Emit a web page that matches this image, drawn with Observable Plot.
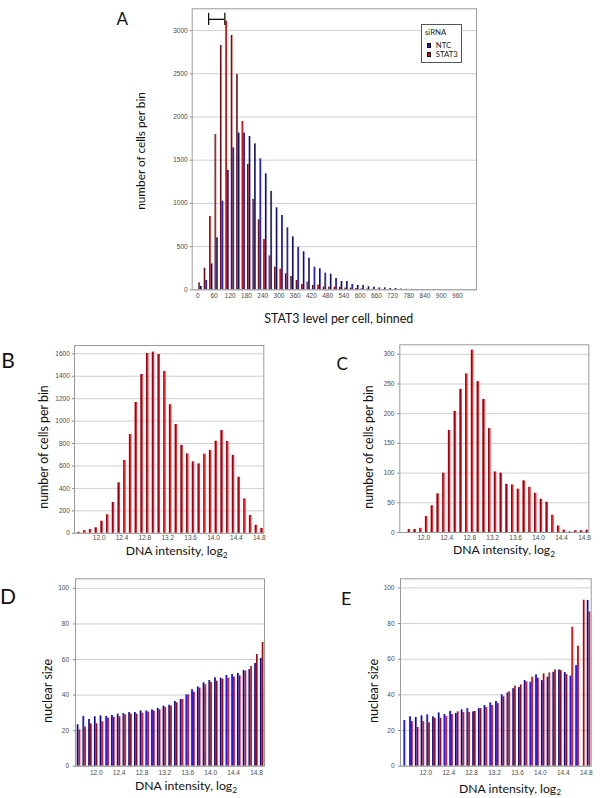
<!DOCTYPE html>
<html>
<head>
<meta charset="utf-8">
<script src="https://cdn.jsdelivr.net/npm/d3@7"></script>
<script src="https://cdn.jsdelivr.net/npm/@observablehq/plot@0.6"></script>
<style>
  html, body { margin: 0; padding: 0; background: #fff; }
  #fig { position: relative; width: 600px; height: 798px; overflow: hidden; font-family: Lato, "Open Sans", sans-serif; color: #111; }
  .txt { position: absolute; white-space: nowrap; line-height: normal; }
  .sub { position: relative; top: 0.3em; font-size: 0.68em; }
  .legend { position: absolute; box-sizing: border-box; border: 1px solid #555; background: #fff; font-family: Lato, sans-serif; font-size: 7.8px; color: #222; }
  .legend .sw { position: absolute; width: 4.3px; height: 4.3px; box-sizing: border-box; border: 0.7px solid #111; }
</style>
</head>
<body>
<svg width="0" height="0" style="position:absolute">
  <defs>
    <linearGradient id="gRedA" x1="0" x2="1" y1="0" y2="0">
      <stop offset="0" stop-color="#5a0c10"/><stop offset="0.5" stop-color="#6e1014"/>
      <stop offset="0.5" stop-color="#d01616"/><stop offset="1" stop-color="#d81a1a"/>
    </linearGradient>
    <linearGradient id="gBlueA" x1="0" x2="1" y1="0" y2="0">
      <stop offset="0" stop-color="#0c0c50"/><stop offset="0.5" stop-color="#10106a"/>
      <stop offset="0.5" stop-color="#2222d0"/><stop offset="1" stop-color="#2828dc"/>
    </linearGradient>
    <linearGradient id="gRedB" x1="0" x2="1" y1="0" y2="0">
      <stop offset="0" stop-color="#960010"/><stop offset="0.5" stop-color="#a80014"/>
      <stop offset="0.5" stop-color="#f01c24"/><stop offset="1" stop-color="#ff2a2a"/>
    </linearGradient>
    <linearGradient id="gBlueD" x1="0" x2="1" y1="0" y2="0">
      <stop offset="0" stop-color="#000088"/><stop offset="0.5" stop-color="#0a0aa0"/>
      <stop offset="0.5" stop-color="#1c1cff"/><stop offset="1" stop-color="#2626ff"/>
    </linearGradient>
    <linearGradient id="gRedD" x1="0" x2="1" y1="0" y2="0">
      <stop offset="0" stop-color="#8c0a0a"/><stop offset="0.5" stop-color="#a00c0c"/>
      <stop offset="0.5" stop-color="#e81414"/><stop offset="1" stop-color="#f01818"/>
    </linearGradient>
  </defs>
</svg>
<div id="fig"></div>
<script>
// ---------------- Panel A: STAT3 level per cell, binned ----------------
const stat3Bins = [0,20,40,60,80,100,120,140,160,180,200,220,240,260,280,300,320,340,360,380,400,
  420,440,460,480,500,520,540,560,580,600,620,640,660,680,700,720,740,760,780,800,
  820,840,860,880,900,920,940,960,980,1000];
const stat3Ntc = [40,108,300,602,1026,1381,1643,1813,1813,1774,1689,1516,1342,1138,949,860,717,613,490,440,365,
  262,243,193,181,131,96,96,62,50,50,35,31,23,23,15,15,8,6,5,4,
  4,3,3,2,2,2,1,1,1,1];
const stat3Kd = [80,250,849,1797,2827,3109,2943,2492,1948,1450,1045,810,582,393,262,239,185,154,108,62,89,
  50,54,31,31,31,31,20,20,15,12,8,6,5,4,3,3,2,2,1,1,
  1,1,0,0,0,0,0,0,0,0];
const stat3BinWidth = 20;
const stat3TickLabels = [0,60,120,180,240,300,360,420,480,540,600,660,720,780,840,900,960];
const countTicksA = [0,500,1000,1500,2000,2500,3000];
const gateRange = [40, 100];
const gateLevel = 3130;
const gateTick = [3060, 3200];
const legendTitle = "siRNA";
const legendLabels = ["NTC", "STAT3"];

// ---------------- Panels B and C: DNA intensity histograms ----------------
const dnaBinsB = [11.6,11.7,11.8,11.9,12.0,12.1,12.2,12.3,12.4,12.5,12.6,12.7,12.8,12.9,13.0,13.1,13.2,
  13.3,13.4,13.5,13.6,13.7,13.8,13.9,14.0,14.1,14.2,14.3,14.4,14.5,14.6,14.7,14.8];
const countsB = [9,25,34,49,108,165,275,450,649,880,1166,1416,1603,1615,1594,1443,1146,
  970,783,708,637,619,705,738,821,916,818,694,500,307,159,71,43];
const dnaBinsC = [11.7,11.8,11.9,12.0,12.1,12.2,12.3,12.4,12.5,12.6,12.7,12.8,12.9,13.0,13.1,13.2,
  13.3,13.4,13.5,13.6,13.7,13.8,13.9,14.0,14.1,14.2,14.3,14.4,14.5,14.6,14.7,14.8];
const countsC = [5,5,7,27,45,65,100,172,204,241,267,307,254,224,175,102,
  100,81,80,73,87,76,66,56,51,29,11,4,1,3,3,4];
const dnaBinWidth = 0.1;
const dnaTicks = [12.0,12.4,12.8,13.2,13.6,14.0,14.4,14.8];
const countTicksB = [0,200,400,600,800,1000,1200,1400,1600];
const countTicksC = [0,50,100,150,200,250,300];

// ---------------- Panels D and E: nuclear size ----------------
const dnaBinsD = [11.7,11.8,11.9,12.0,12.1,12.2,12.3,12.4,12.5,12.6,12.7,12.8,12.9,13.0,13.1,13.2,13.3,
  13.4,13.5,13.6,13.7,13.8,13.9,14.0,14.1,14.2,14.3,14.4,14.5,14.6,14.7,14.8,14.9];
const sizeNtcD = [23.3,28,26.3,27.8,28.3,28,28.5,29.3,29.6,30.2,30.2,31.1,31.1,31.7,32.5,33.8,34.3,
  36.4,37.5,40.1,43,44.6,46.9,48.2,49.7,49.5,51,51.6,52.2,53.8,54.4,57.8,60.6];
const sizeKdD = [20.4,22,23.8,23.8,25,27,27.6,27.8,28.9,29.3,29.3,29.8,30.4,31,31.7,33,33.8,
  35.6,37.5,40.1,41.6,43.9,45.8,47.1,47.8,49,49.5,50.1,50.8,53.5,56.1,62.8,69.6];
const dnaBinsE = dnaBinsB;
const sizeNtcE = [25.6,27.7,27.3,28.2,28.8,27.7,29.9,29,30.8,29.5,31.6,32.3,30.5,32.3,34,35.5,36.3,
  40,41.1,43.5,44.1,48,47.1,51.2,48,49.9,52.7,54,52.5,50.5,56.4,null,92.9];
const sizeKdE = [null,25,21.7,25,24.3,26.9,26.9,27.8,29,30.5,30.1,30.1,30.7,32.3,32.9,34,35.1,
  38.9,41.7,44.9,45.6,47.3,49.9,49.3,51.8,52.3,54,53.6,51.4,77.9,67.3,93.1,86.5];
const sizeTicks = [0,20,40,60,80,100];

// ---------------- helpers ----------------
const fig = document.getElementById("fig");
const LATO_ASC = 0.987;

function makePlot({box, frame, xDomain, yDomain, xTicks, yTicks, xFmt, xPad, yPad, marks}) {
  const [left, top, width, height] = box;
  const [fl, fr, ft, fb] = frame;
  const svg = Plot.plot({
    width, height,
    marginLeft: fl - left, marginRight: left + width - fr,
    marginTop: ft - top, marginBottom: top + height - fb,
    x: {type: "linear", domain: xDomain},
    y: {type: "linear", domain: yDomain},
    style: {fontFamily: "'Liberation Sans', Arial, sans-serif", fontSize: "6.5px", color: "#4a4a4a", background: "transparent", overflow: "visible"},
    marks: [
      Plot.gridY(yTicks, {stroke: "#c3cdcd", strokeOpacity: 1, strokeWidth: 0.9}),
      ...marks,
      Plot.frame({stroke: "#9a9a9a", strokeWidth: 1}),
      Plot.axisX(xTicks, {tickSize: 0, tickPadding: xPad, tickFormat: xFmt, label: null}),
      Plot.axisY(yTicks, {tickSize: 2, tickPadding: yPad, tickFormat: d => String(d), label: null, stroke: "#888"})
    ]
  });
  svg.style.position = "absolute";
  svg.style.left = left + "px";
  svg.style.top = top + "px";
  fig.appendChild(svg);
}

function addText(html, x, baseline, size, anchor = "start") {
  const d = document.createElement("div");
  d.className = "txt";
  d.innerHTML = html;
  d.style.fontSize = size + "px";
  d.style.left = x + "px";
  d.style.top = (baseline - LATO_ASC * size) + "px";
  if (anchor === "middle") d.style.transform = "translateX(-50%)";
  fig.appendChild(d);
}

function addYTitle(text, cx, cy, size) {
  const d = document.createElement("div");
  d.className = "txt";
  d.textContent = text;
  d.style.fontSize = size + "px";
  d.style.left = cx + "px";
  d.style.top = cy + "px";
  d.style.transform = "translate(-50%,-50%) rotate(-90deg)";
  fig.appendChild(d);
}

const fmt1 = d => d.toFixed(1);

// ---------------- Panel A ----------------
const rowsA = stat3Bins.map((b, i) => ({bin: b, ntc: stat3Ntc[i], kd: stat3Kd[i]}));
makePlot({
  box: [150, 0, 335, 305],
  frame: [191.7, 476, 8.3, 289.3],
  xDomain: [-20.7, 1030.2],
  yDomain: [0, 3252],
  xTicks: stat3TickLabels, yTicks: countTicksA,
  xFmt: d => String(d), xPad: 3.5, yPad: 2.5,
  marks: [
    Plot.rectY(rowsA, {x1: "bin", x2: d => d.bin + stat3BinWidth, y1: 0, y2: "kd", fill: "url(#gRedA)", insetLeft: 1.0, insetRight: 2.7}),
    Plot.rectY(rowsA, {x1: "bin", x2: d => d.bin + stat3BinWidth, y1: 0, y2: "ntc", fill: "url(#gBlueA)", insetLeft: 2.7, insetRight: 1.0}),
    Plot.ruleY([gateLevel], {x1: gateRange[0], x2: gateRange[1], stroke: "#111", strokeWidth: 1.3}),
    Plot.ruleX(gateRange, {y1: gateTick[0], y2: gateTick[1], stroke: "#111", strokeWidth: 1.3})
  ]
});

// legend
(function () {
  const lg = document.createElement("div");
  lg.className = "legend";
  Object.assign(lg.style, {left: "421.3px", top: "24px", width: "40.6px", height: "38.5px"});
  const colors = ["#1a1ad0", "#d01414"];
  const t = document.createElement("div");
  t.className = "txt"; t.textContent = legendTitle;
  Object.assign(t.style, {left: "2.7px", top: (9.3 - LATO_ASC * 7.8) + "px"});
  lg.appendChild(t);
  legendLabels.forEach((lab, i) => {
    const sw = document.createElement("div");
    sw.className = "sw";
    Object.assign(sw.style, {left: "4.4px", top: (18.3 + i * 9) + "px", background: colors[i]});
    lg.appendChild(sw);
    const tx = document.createElement("div");
    tx.className = "txt"; tx.textContent = lab;
    Object.assign(tx.style, {left: "13.4px", top: (23 + i * 9 - LATO_ASC * 7.8) + "px"});
    lg.appendChild(tx);
  });
  fig.appendChild(lg);
})();

addText("A", 116.5, 25, 17);
addYTitle("number of cells per bin", 140.2, 150.5, 11.8);
addText("STAT3 level per cell, binned", 338.8, 323.3, 12.4, "middle");

// ---------------- Panel B ----------------
const rowsB = dnaBinsB.map((b, i) => ({bin: b, n: countsB[i]}));
makePlot({
  box: [40, 335, 230, 212],
  frame: [74, 263.3, 345, 532.8],
  xDomain: [11.568, 14.88],
  yDomain: [0, 1674],
  xTicks: dnaTicks, yTicks: countTicksB,
  xFmt: fmt1, xPad: 2.5, yPad: 2.7,
  marks: [
    Plot.rectY(rowsB, {x1: "bin", x2: d => d.bin + dnaBinWidth, y1: 0, y2: "n", fill: "url(#gRedB)", insetLeft: 1.6, insetRight: 1.6})
  ]
});
addText("B", 1.2, 367.3, 21);
addYTitle("number of cells per bin", 43.1, 446.5, 12.4);
addText('DNA intensity, log<span class="sub">2</span>', 176.7, 555.3, 12.2, "middle");

// ---------------- Panel C ----------------
const rowsC = dnaBinsC.map((b, i) => ({bin: b, n: countsC[i]}));
makePlot({
  box: [365, 335, 230, 212],
  frame: [399.3, 588.3, 344.3, 532],
  xDomain: [11.582, 14.875],
  yDomain: [0, 316],
  xTicks: dnaTicks, yTicks: countTicksC,
  xFmt: fmt1, xPad: 2.5, yPad: 3.3,
  marks: [
    Plot.rectY(rowsC, {x1: "bin", x2: d => d.bin + dnaBinWidth, y1: 0, y2: "n", fill: "url(#gRedB)", insetLeft: 1.6, insetRight: 1.6})
  ]
});
addText("C", 336.5, 370, 17);
addYTitle("number of cells per bin", 368.4, 446.5, 12.4);
addText('DNA intensity, log<span class="sub">2</span>', 504, 554.3, 12.2, "middle");

// ---------------- Panel D ----------------
const rowsD = dnaBinsD.map((b, i) => ({bin: b, ntc: sizeNtcD[i], kd: sizeKdD[i]}));
makePlot({
  box: [40, 570, 230, 212],
  frame: [75, 264, 578.3, 765.7],
  xDomain: [11.638, 14.94],
  yDomain: [0, 105.4],
  xTicks: dnaTicks, yTicks: sizeTicks,
  xFmt: fmt1, xPad: 4, yPad: 4.5,
  marks: [
    Plot.rectY(rowsD, {x1: d => d.bin - dnaBinWidth / 2, x2: d => d.bin + dnaBinWidth / 2, y1: 0, y2: "ntc", fill: "url(#gBlueD)", insetLeft: 1.05, insetRight: 2.86}),
    Plot.rectY(rowsD, {x1: d => d.bin - dnaBinWidth / 2, x2: d => d.bin + dnaBinWidth / 2, y1: 0, y2: "kd", fill: "url(#gRedD)", insetLeft: 2.86, insetRight: 1.05})
  ]
});
addText("D", 0, 604, 21);
addYTitle("nuclear size", 46.7, 691.3, 12.6);
addText('DNA intensity, log<span class="sub">2</span>', 186, 790.3, 12.2, "middle");

// ---------------- Panel E ----------------
const rowsE = dnaBinsE.map((b, i) => ({bin: b, ntc: sizeNtcE[i], kd: sizeKdE[i]}));
makePlot({
  box: [365, 570, 230, 212],
  frame: [400, 590.7, 578.3, 765.7],
  xDomain: [11.558, 14.887],
  yDomain: [0, 105.1],
  xTicks: dnaTicks, yTicks: sizeTicks,
  xFmt: fmt1, xPad: 4, yPad: 4,
  marks: [
    Plot.rectY(rowsE, {x1: "bin", x2: d => d.bin + dnaBinWidth, y1: 0, y2: "ntc", fill: "url(#gBlueD)", insetLeft: 1.05, insetRight: 2.86}),
    Plot.rectY(rowsE, {x1: "bin", x2: d => d.bin + dnaBinWidth, y1: 0, y2: "kd", fill: "url(#gRedD)", insetLeft: 2.86, insetRight: 1.05})
  ]
});
addText("E", 341, 605, 18);
addYTitle("nuclear size", 373, 691.3, 12.6);
addText('DNA intensity, log<span class="sub">2</span>', 510, 792.6, 12.2, "middle");
</script>
</body>
</html>
